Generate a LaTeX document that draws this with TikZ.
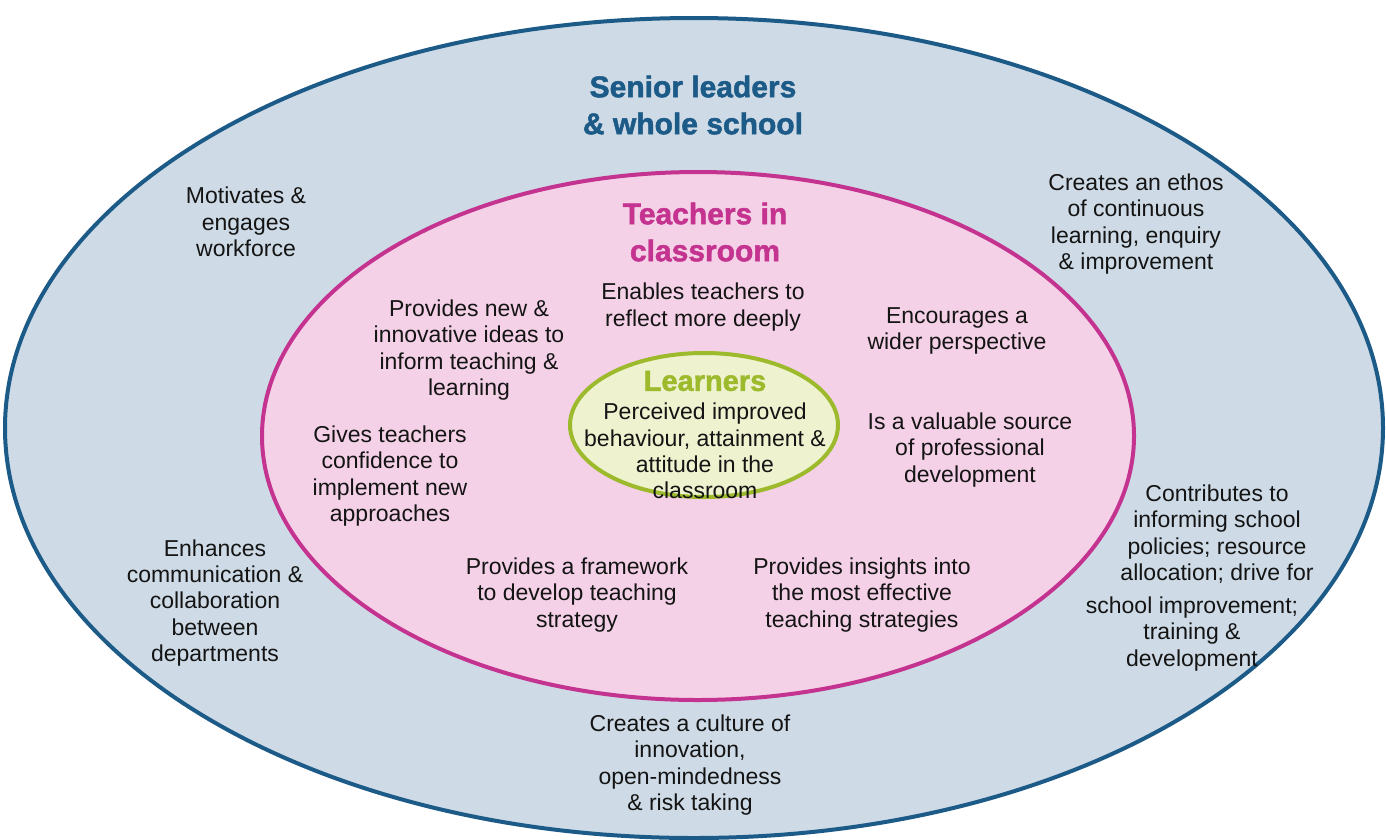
\documentclass[tikz,border=0pt]{standalone}
\usepackage{fontspec}
\setmainfont{Liberation Sans}
\newfontfamily\heavyfont[FakeBold=1.6]{Liberation Sans Bold}
\definecolor{outerfill}{HTML}{CEDBE6}
\definecolor{outerline}{HTML}{1C5A88}
\definecolor{pinkfill}{HTML}{F4D1E7}
\definecolor{pinkline}{HTML}{C4338F}
\definecolor{greenfill}{HTML}{EEF2CE}
\definecolor{greenline}{HTML}{9DBA2D}
\definecolor{txt}{HTML}{141414}
\begin{document}
\begin{tikzpicture}[x=1pt,y=-1pt,
  body/.style={align=center,text=txt,inner sep=0pt,font=\fontsize{23}{26.3}\selectfont},
  ttl/.style={align=center,inner sep=0pt,font=\fontsize{30}{37}\heavyfont}]
\useasboundingbox (0,0) rectangle (1386,839);
\fill[white] (0,0) rectangle (1386,839);
\draw[outerline,fill=outerfill,line width=4pt] (694,428) ellipse [x radius=689, y radius=410];
\draw[pinkline,fill=pinkfill,line width=4pt] (698,436) ellipse [x radius=436, y radius=264];
\draw[greenline,fill=greenfill,line width=4pt] (704,425) ellipse [x radius=134, y radius=72];

\node[ttl,text=outerline] (senior) at (693,105) {Senior leaders\\\& whole school};
\node[ttl,text=pinkline] (teachers) at (705,232) {Teachers in\\classroom};
\node[ttl,text=greenline,font=\fontsize{29}{34}\heavyfont] (learners) at (705,381) {Learners};

\node[body] (motiv) at (246,222) {Motivates \&\\engages\\workforce};
\node[body] (ethos) at (1136,224) {Creates an ethos\\of continuous\\learning, enquiry\\\& improvement};
\node[body] (enables) at (703,307) {Enables teachers to\\reflect more deeply};
\node[body] (newideas) at (469,350) {Provides new \&\\innovative ideas to\\inform teaching \&\\learning};
\node[body] (wider) at (957,331) {Encourages a\\wider perspective};
\node[body] (perceived) at (705,451) {Perceived improved\\behaviour, attainment \&\\attitude in the\\classroom};
\node[body] (confid) at (390,476) {Gives teachers\\confidence to\\implement new\\approaches};
\node[body] (valuable) at (970,450) {Is a valuable source\\of professional\\development};
\node[body] (contrib) at (1217,534) {Contributes to\\informing school\\policies; resource\\allocation; drive for};
\node[body] (improve) at (1192,634) {school improvement;\\training \&\\development};
\node[body] (enhances) at (215,603) {Enhances\\communication \&\\collaboration\\between\\departments};
\node[body] (framework) at (577,595) {Provides a framework\\to develop teaching\\strategy};
\node[body] (insights) at (862,595) {Provides insights into\\the most effective\\teaching strategies};
\node[body] (culture) at (690,765) {Creates a culture of\\innovation,\\open-mindedness\\\& risk taking};
\end{tikzpicture}
\end{document}
